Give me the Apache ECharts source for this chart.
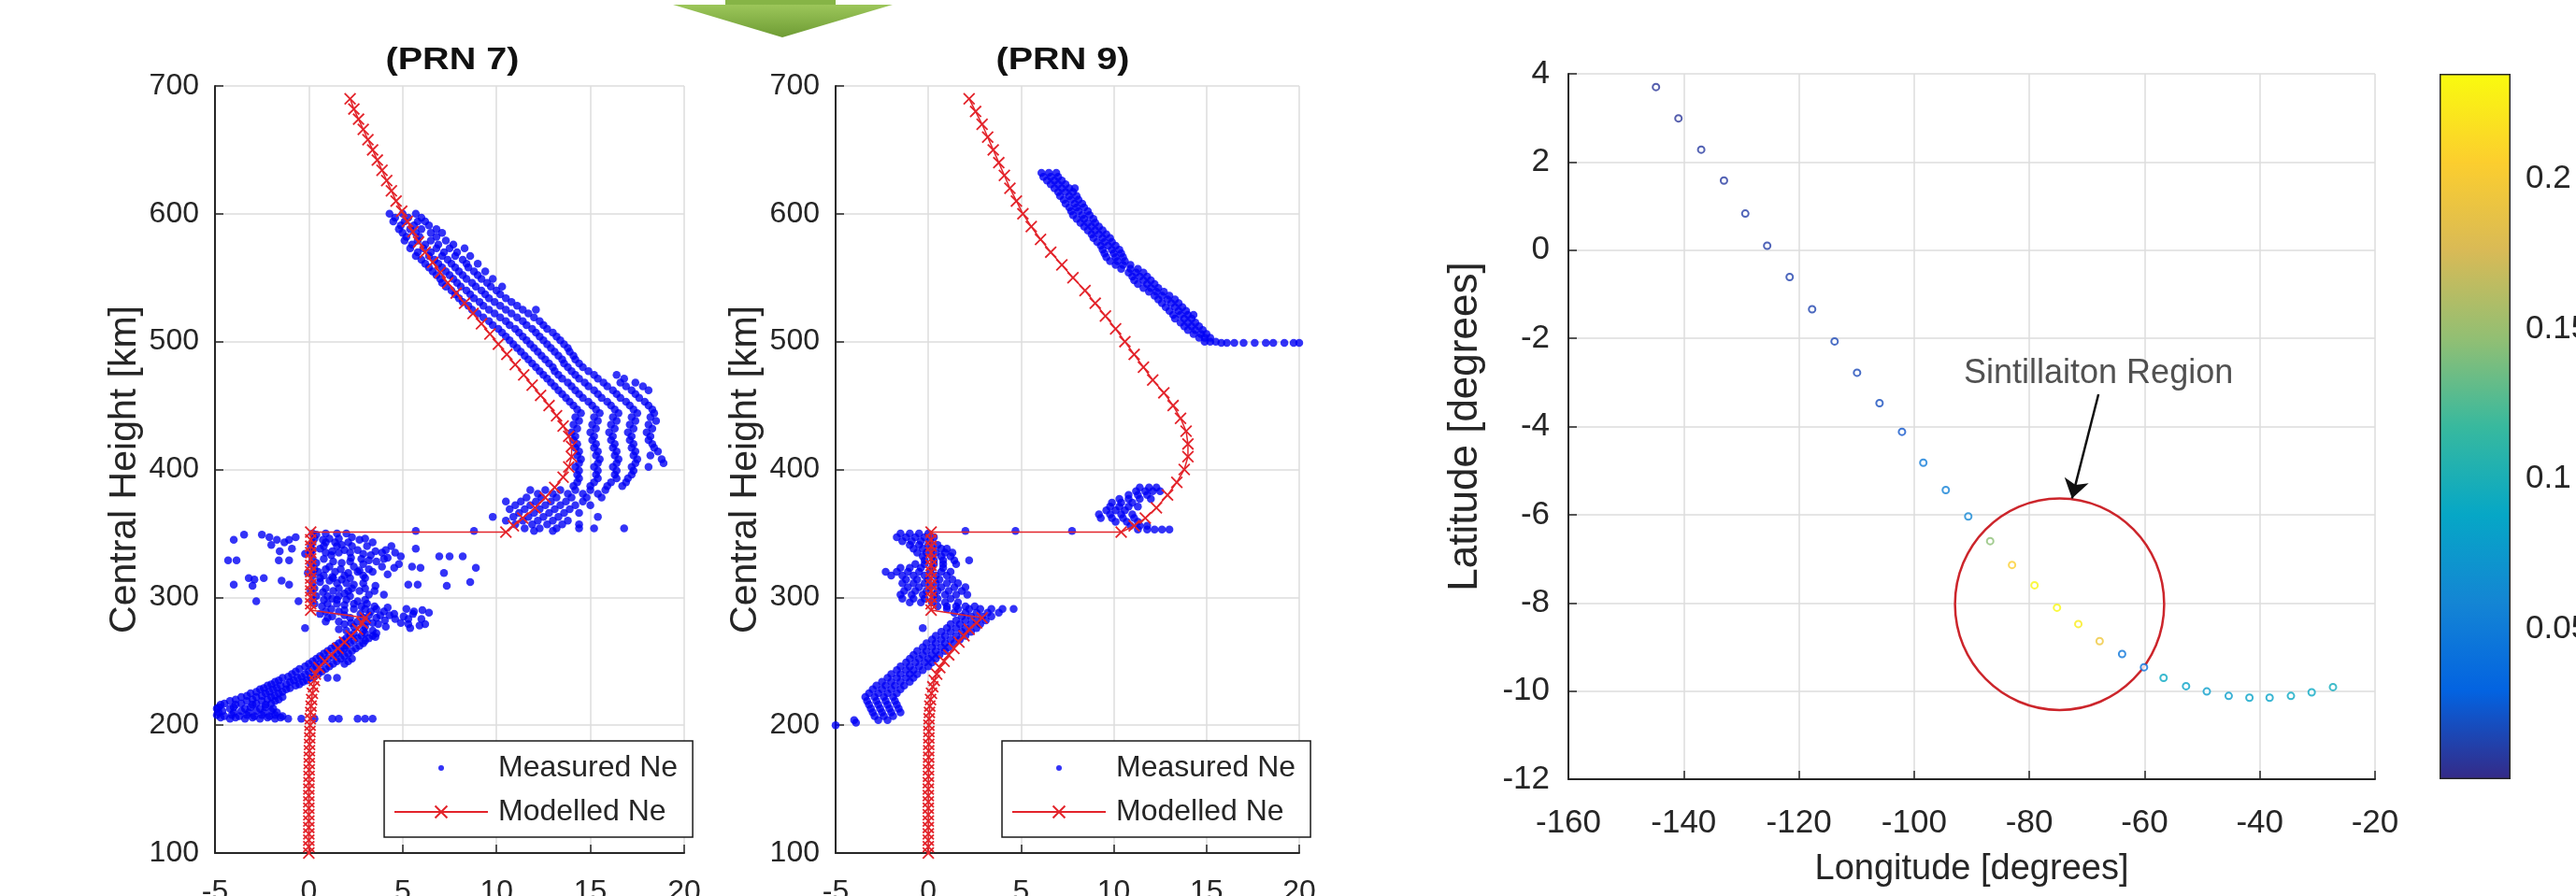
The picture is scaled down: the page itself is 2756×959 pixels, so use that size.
<!DOCTYPE html>
<html><head><meta charset="utf-8">
<script src="https://cdn.jsdelivr.net/npm/echarts@6/dist/echarts.min.js"></script>
<style>html,body{margin:0;padding:0;background:#fff}#c{width:2756px;height:959px}</style>
</head><body><div id="c"></div>
<script>
// ---------------- DATA ----------------
const panelTitles = ['(PRN 7)', '(PRN 9)'];
const seriesNames = ['Measured Ne', 'Modelled Ne'];

// Modelled Ne, PRN 7 : heights [km] and values
const model7Km = [100,105,110,115,120,125,130,135,140,145,150,155,160,165,170,175,180,185,190,195,200,205,210,215,220,225,230,235,240,245,250,255,260,265,270,275,280,284,290,295,300,305,310,315,320,325,330,335,340,345,351,351,356,362,370,378,386,394,402,410,418,426,434,442,450,458,466,474,482,490,498,506,514,522,530,538,546,554,562,570,578,586,594,602,610,618,626,634,642,650,658,666,674,682,690];
const model7Ne = [0,0,0,0,0,0,0,0,0,0,0,0.01,0.01,0.02,0.02,0.03,0.03,0.04,0.05,0.06,0.07,0.08,0.1,0.12,0.15,0.19,0.25,0.3,0.35,0.55,0.85,1.2,1.55,1.9,2.25,2.6,2.85,3.0,0.1,0.1,0.1,0.1,0.1,0.1,0.1,0.1,0.1,0.1,0.1,0.1,0.1,10.5,10.9,11.4,12.05,12.6,13.1,13.55,13.85,14.0,14.0,13.85,13.55,13.2,12.8,12.35,11.9,11.45,11.0,10.55,10.1,9.65,9.2,8.75,8.3,7.85,7.4,7.0,6.6,6.2,5.85,5.55,5.25,4.95,4.65,4.4,4.15,3.9,3.65,3.4,3.15,2.9,2.65,2.4,2.2];

// Modelled Ne, PRN 9
const model9Km = [100,105,110,115,120,125,130,135,140,145,150,155,160,165,170,175,180,185,190,195,200,205,210,215,220,225,230,235,240,245,250,255,260,265,270,275,280,284,290,295,300,305,310,315,320,325,330,335,340,345,351,351,356,362,370,380,390,400,410,420,430,440,450,460,470,480,490,500,510,520,530,540,550,560,570,580,590,600,610,620,630,640,650,660,670,680,690];
const model9Ne = [0,0,0,0,0,0,0,0,0,0,0,0,0.01,0.01,0.01,0.02,0.02,0.02,0.03,0.03,0.03,0.04,0.06,0.08,0.12,0.17,0.24,0.32,0.45,0.62,0.85,1.1,1.38,1.65,1.92,2.2,2.6,2.9,0.15,0.15,0.15,0.15,0.15,0.15,0.15,0.15,0.15,0.15,0.15,0.15,0.15,10.4,11.1,11.7,12.3,12.9,13.4,13.8,14.0,14.0,13.9,13.6,13.2,12.7,12.1,11.6,11.1,10.6,10.1,9.55,9.0,8.45,7.8,7.2,6.6,6.05,5.55,5.1,4.75,4.4,4.1,3.8,3.5,3.2,2.9,2.55,2.2];

// Measured Ne, PRN 7 : rows of [height km, Ne values...]
const meas7Rows = [
[600,4.3,5.0,5.7],[597,4.6,5.3,6.0],[594,4.5,5.1,5.8,6.2],[591,4.9,5.6,6.4],[588,4.8,5.4,6.0,6.8],
[585,5.0,5.7,6.5,7.1],[582,5.2,5.9,6.8],[579,5.1,5.8,6.5,7.3],[576,5.5,6.2,6.9,7.7],[573,5.4,6.1,6.8,7.5,8.3],
[570,5.8,6.5,7.2,7.9],[567,5.7,6.4,7.1,7.8,8.6],[564,6.0,6.7,7.4,8.2],[561,6.2,6.9,7.6,8.4,9.0],[558,6.4,7.1,7.8,8.5],
[555,6.6,7.3,8.0,8.8,9.4],[552,6.8,7.5,8.2,9.0],[549,7.0,7.7,8.4,9.2,9.8],[546,7.1,7.9,8.7,9.5],[543,7.3,8.1,8.9,9.7,10.3],
[540,7.6,8.4,9.2,10.0],[537,7.8,8.6,9.4,10.2],[534,8.0,8.8,9.6,10.5],[531,8.2,9.1,9.9,10.8],[528,8.5,9.3,10.2,11.1],
[525,8.7,9.6,10.5,11.4,12.1],[522,9.0,9.9,10.8,11.7],[519,9.3,10.2,11.1,12.0],[516,9.6,10.5,11.4,12.3],[513,9.8,10.7,11.6,12.5],
[510,10.1,11.0,11.9,12.7],[507,10.3,11.2,12.1,13.0],[504,10.5,11.4,12.3,13.2],[501,10.7,11.6,12.5,13.4],[498,10.9,11.8,12.7,13.6],
[495,11.1,12.0,12.9,13.8],[492,11.3,12.2,13.1,13.9],[489,11.5,12.4,13.3,14.1],[486,11.7,12.6,13.5,14.2],[483,11.9,12.8,13.6,14.4],
[480,12.1,13.0,13.8,14.6],[477,12.3,13.1,14.0,14.9],[474,12.5,13.3,14.2,15.2,16.4],[471,12.7,13.5,14.4,15.4,16.8],[468,12.9,13.8,14.7,15.7,16.6,17.4],
[465,13.1,14.0,14.9,15.9,16.9,17.8],[462,13.3,14.2,15.2,16.2,17.2,18.1],[459,13.5,14.4,15.4,16.4,17.4],[456,13.7,14.6,15.6,16.6,17.6],[453,13.9,14.9,15.9,16.9,17.9],
[450,14.1,15.1,16.1,17.1,18.1],[447,14.3,15.3,16.3,17.3,18.3],[444,14.5,15.5,16.5,17.5,18.4],[441,14.2,15.2,16.2,17.2,18.2],[438,14.4,15.4,16.4,17.4,18.5],
[435,14.1,15.1,16.1,17.1,18.1],[432,14.3,15.3,16.3,17.3,18.3],[429,14.0,15.0,16.0,17.0,18.0],[426,14.2,15.2,16.2,17.2,18.2],[423,14.1,15.1,16.1,17.1,18.1],
[420,14.3,15.3,16.3,17.3,18.3],[417,14.2,15.2,16.2,17.2,18.4],[414,14.4,15.4,16.4,17.4,18.6],[411,14.3,15.3,16.3,17.3,18.2],[408,14.5,15.5,16.5,17.5,18.8],
[405,14.4,15.4,16.4,17.4,18.9],[402,14.2,15.2,16.2,17.2,18.1],[399,14.4,15.4,16.4,17.3],[396,14.3,15.3,16.3,17.2],[393,14.4,15.4,16.4,17.0],
[390,14.3,15.2,16.1,16.9],[387,14.1,15.0,15.9,16.7],[384,11.8,12.6,13.4,14.2,15.0,15.8],[381,12.2,13.0,13.8,14.6,15.4],[378,11.6,12.4,13.2,14.0,14.8,15.6],
[375,10.5,11.3,12.1,12.9,13.7,14.6],[372,11.0,11.8,12.6,13.4,14.2,15.0],[369,10.7,11.5,12.3,13.1,13.9],[366,11.2,12.0,12.8,13.6,14.4],[363,9.8,10.9,11.7,12.5,13.3,15.4],
[360,10.5,11.4,12.2,13.0,13.8],[357,11.0,11.9,12.7,13.5,14.4],[354,11.5,12.3,13.2,14.4,15.2,16.8],[352,5.7,8.8,12.0,13.0],
[350,0.2,0.9,1.5,2.0],[349,-3.45,-2.5,0.4],[347,-2.1,-0.7,2.3],[346,0.3,1.1,1.6,3.0],[345,-4.0,-1.7,-1.05,0.75,2.7],
[343,-1.3,0.2,0.9,1.4,2.1,3.4],[341,-2.0,1.75],[340,0.1,0.8,1.5,2.3,3.1,4.4],[338,-0.9,0.6,5.7],[337,0.2,1.9,2.6,4.1],
[336,-1.55,1.25,3.55],[335,0.1,0.9,1.6,2.2,3.9,4.6],[334,-0.2,2.9],[333,1.2,3.3],[332,4.9,6.95,7.5,8.2],
[331,2.25,4.2],[330,0.2,0.8,2.8,4.0],[329,-4.3,-3.85,-1.6,-1.05,3.2],[328,1.3,2.2,3.6],[327,0.4,1.75],
[326,0.1,2.9,4.8],[324,1.1,2.4,3.9,5.5],[323,4.55,5.95,8.9],[322,0.3,0.9,1.7,3.2],[321,2.7],
[320,0.5,1.4,2.6,3.4],[319,-0.05,2.1,7.2],[318,4.2],[317,0.2,0.8,1.9,2.9],[316,1.25],
[315,-3.2,-2.4,0.6,1.3,2.2,3.0],[314,-2.9,1.75],[313,-1.45,1.1],[312,0.6,8.6],[311,0.2,1.5,2.0,2.9],
[310,-4.0,-1.05,2.4,5.3,5.8],[309,-3.0,3.55,7.35],[307,0.3,0.9,1.6,2.3,3.0],[305,0.1,1.3,2.1,2.7,3.5],[304,0.75],
[303,1.9],[302,3.2,4.0],[301,0.4,1.0,1.6,2.2],[299,1.25],[298,0.2,0.8,1.5,2.0,3.0],
[297,-2.8,-0.55,2.6],[295,0.3,1.0,1.5,2.4,3.1],[294,1.9],[293,0.7,2.8,3.5],[292,4.2],
[291,1.2,2.4,3.0,3.6,5.2],[290,1.9,6.05],[289,0.9,1.6,3.3,4.0,5.6],[288,6.4],[287,0.6,2.75,4.55,5.55],
[286,1.9,3.2,3.8,4.3],[285,1.25,5.05],[284,1.0,2.2,2.9,3.6],[283,4.6,5.3,6.0],[282,4.05],
[281,0.9,1.6,2.6,3.1],[280,2.25,3.4,4.9],[279,1.9,3.7,5.3,6.2],[278,5.9],[277,2.4,3.0,4.1],
[276,-0.2,5.4],[275,1.6],[274,2.0,2.9,3.4],[272,2.4,3.0,3.6],[270,2.2,2.8,3.4],
[269,3.55],[268,2.0,2.6,3.2],[266,1.8,2.4,3.0],[264,1.6,2.2,2.9],[262,1.4,2.0,2.7],
[260,1.2,1.9,2.5],[258,1.0,1.7,2.3],[256,0.8,1.5,2.1],[254,0.6,1.3,1.9],[252,0.4,1.0,1.7,2.3],
[250,0.2,0.8,1.5,2.1],[248,0.0,0.6,1.3,1.9],[246,-0.2,0.4,1.1],[244,-0.5,0.2,0.9],[242,-0.7,0.0,0.7],
[240,-0.9,-0.2,0.5],[238,-1.1,-0.4,0.3],[237,-1.4,-0.6,0.1,1.0,1.5],[235,-1.6,-0.8,-0.1],[234,-1.8,-1.0,-0.3],
[232,-2.0,-1.2,-0.5],[231,-2.2,-1.5,-0.7],[229,-2.4,-1.7,-1.0],[228,-2.6,-1.9,-1.2],[226,-2.8,-2.1,-1.4],
[225,-3.1,-2.3,-1.6],[223,-3.3,-2.5,-1.8],[222,-3.6,-2.8,-2.0,-1.4],[220,-3.9,-3.0,-2.2,-1.6],[219,-4.2,-3.3,-2.5,-1.8],
[217,-4.5,-3.6,-2.8,-2.0],[216,-4.7,-3.9,-3.0,-2.3],[214,-4.8,-4.0,-3.1,-2.3],[213,-4.9,-4.2,-3.4,-2.6,-1.9],[211,-4.6,-3.6,-2.8,-2.0],
[210,-4.8,-4.0,-3.2,-2.4,-1.7],[208,-4.9,-4.1,-3.3,-2.5,-1.8],[207,-4.5,-3.7,-2.9,-2.1,-1.4],[206,-4.7,-3.9,-3.0,-2.2,-1.5],
[205,-4.2,-3.4,-2.6,-1.8,-1.1,-0.4,0.3,1.25,1.6,2.6,3.0,3.4]
];

// Measured Ne, PRN 9
const meas9Rows = [
[632,6.1,6.5,6.9],[629,6.2,6.6,7.0],[626,6.4,6.8,7.2],[623,6.6,7.0,7.4],[620,6.8,7.2,7.6,7.9],
[617,7.0,7.4,7.8],[614,7.1,7.6,8.0],[611,7.3,7.7,8.1],[608,7.4,7.9,8.3],[605,7.6,8.0,8.4],
[602,7.7,8.1,8.6],[599,7.8,8.3,8.7],[596,8.0,8.4,8.9],[593,8.2,8.6,9.0],[590,8.4,8.8,9.2],
[587,8.6,9.0,9.4],[584,8.8,9.2,9.6],[581,8.9,9.4,9.8],[578,9.1,9.5,9.9],[575,9.3,9.7,10.1],
[572,9.4,9.9,10.3],[569,9.5,10.0,10.4],[566,9.6,10.1,10.5],[563,9.8,10.2,10.6],[560,10.1,10.5,10.9],
[557,10.4,10.9,11.3],[554,10.8,11.2,11.6],[551,11.0,11.4,11.8],[548,11.1,11.6,12.0],[545,11.3,11.8,12.2],
[542,11.6,12.0,12.4],[539,11.9,12.3,12.7],[536,12.2,12.6,13.0],[533,12.4,12.9,13.3],[530,12.6,13.1,13.5],
[527,12.8,13.3,13.7],[524,13.0,13.5,13.9],[521,13.2,13.6,14.0,14.3],[518,13.3,13.8,14.2],[515,13.6,14.0,14.4],
[512,13.8,14.2,14.6],[509,14.0,14.4,14.8],[506,14.3,14.7,15.0],[503,14.6,14.9,15.2],[500,14.9,15.2,15.5],
[499,15.8,16.1,16.5,17.0,17.6,18.2,18.6,19.2,19.7,20.0],
[386,11.4,11.9,12.3],[383,11.2,11.7,12.1,12.5],[380,10.8,11.3,11.8],[377,10.3,10.8,11.4,12.0],[374,9.9,10.4,11.0],
[371,9.8,10.3,10.8,11.3],[368,9.6,10.1,10.6],[365,9.2,9.8,10.4,11.0],[362,9.3,9.9,10.5,11.1],[359,10.1,10.7,11.3],
[356,10.9,11.4,11.8],[353,11.3,11.8,12.2,12.6,13.0],[352,2.0,4.7,7.75],
[350,-1.5,-1.0,-0.5,0.0],[347,-1.7,-1.2,-0.7,-0.2,0.3],[344,-1.4,-0.9,-0.4,0.1],[341,-1.0,-0.5,0.0,0.5],[338,-0.8,-0.3,0.2,0.7,1.0],
[335,-0.6,-0.1,0.4,0.9,1.3],[332,-0.3,0.2,0.7,1.2],[329,-0.2,0.3,0.8,1.4,2.2],[326,-0.7,-0.2,0.3,0.8,1.5],[323,-1.5,-1.0,-0.4,0.2,0.8],
[320,-2.3,-1.7,-1.1,-0.5,0.1,0.7,1.2],[317,-2.0,-1.4,-0.8,-0.2,0.4,1.0],[314,-1.2,-0.6,0.0,0.6,1.3],[311,-1.4,-0.8,-0.2,0.4,1.0,1.6],[308,-1.1,-0.5,0.1,0.7,1.4,2.0],
[305,-1.3,-0.7,-0.1,0.5,1.1,1.8],[302,-1.5,-0.9,-0.3,0.3,0.9,1.5,2.1],[299,-1.4,-0.8,-0.2,0.5,1.2],[296,-1.0,-0.4,0.2,0.9,1.6],[293,0.5,1.0,1.5,2.0,2.5],
[291,1.0,1.6,2.2,2.8,3.4,4.0,4.6],[288,1.4,2.0,2.6,3.2,3.8],[285,1.8,2.3,2.9,3.4],[282,1.5,2.0,2.6,3.1],[279,1.2,1.7,2.3,2.8],
[276,-0.3,1.0,1.5,2.0,2.6],[273,0.7,1.2,1.8,2.3],[270,0.4,0.9,1.5,2.0],[267,0.2,0.7,1.2,1.7],[264,-0.1,0.4,0.9,1.4],
[261,-0.3,0.2,0.7,1.1],[258,-0.6,-0.1,0.4,0.9],[255,-0.8,-0.3,0.2,0.6],[252,-1.0,-0.5,0.0,0.4],[249,-1.2,-0.7,-0.2,0.2],
[246,-1.5,-1.0,-0.5,0.0],[243,-1.7,-1.2,-0.8,-0.3],[240,-2.0,-1.5,-1.0,-0.6],[237,-2.2,-1.7,-1.2,-0.8],[234,-2.5,-2.0,-1.5,-1.0],
[231,-2.8,-2.3,-1.8,-1.3],[228,-3.0,-2.5,-2.0,-1.5],[225,-3.2,-2.7,-2.2,-1.7],[222,-3.4,-2.9,-2.4,-1.9],[219,-3.3,-2.8,-2.3,-1.8],
[216,-3.2,-2.7,-2.2,-1.7],[213,-3.1,-2.6,-2.1,-1.6],[210,-3.0,-2.5,-2.0,-1.5],[207,-2.9,-2.4,-1.9],[204,-2.7,-2.2,-4.0],
[202,-3.9],[200,-5.0]
];

// Satellite track (right panel)
const trackLon = [-144.8,-140.9,-136.95,-133.0,-129.3,-125.5,-121.6,-117.7,-113.8,-109.9,-106.0,-102.1,-98.4,-94.5,-90.6,-86.8,-83.0,-79.1,-75.2,-71.5,-67.8,-63.9,-60.1,-56.7,-52.8,-49.2,-45.4,-41.8,-38.3,-34.6,-31.0,-27.3];
const trackLat = [3.70,2.99,2.28,1.58,0.83,0.10,-0.61,-1.34,-2.07,-2.78,-3.47,-4.12,-4.82,-5.44,-6.04,-6.60,-7.14,-7.60,-8.11,-8.48,-8.87,-9.16,-9.46,-9.70,-9.89,-10.01,-10.11,-10.15,-10.15,-10.11,-10.03,-9.91];
const trackS4 = [0.006,0.006,0.008,0.008,0.01,0.01,0.012,0.013,0.015,0.016,0.018,0.022,0.05,0.055,0.06,0.145,0.205,0.232,0.233,0.225,0.195,0.045,0.04,0.09,0.085,0.08,0.08,0.085,0.085,0.09,0.09,0.095];

// Annotation (ellipse: centre lon, centre lat, radius lon, radius lat)
const regionEllipse = [[-74.75, -8.03, 18.15, 2.40]];
const regionLabel = 'Sintillaiton Region';
const regionLabelPos = [-68.0, -2.81];
const regionArrow = [[-68.0, -3.27], [-72.6, -5.63]];

// Colour bar
const cbMin = 0, cbMax = 0.235;
const parula = ['#352a87','#0363e1','#1485d4','#06a7c6','#38b99e','#92bf73','#d9ba56','#fcce2e','#f9fb0e'];

// ---------------- BUILD ----------------
const FONT = '"Liberation Sans", Arial, Helvetica, sans-serif';
const INK = '#262626';
const GRIDC = '#dcdcdc';
const RED = '#e3242b';
const XMARK = 'path://M0,1L1,0L5,4L9,0L10,1L6,5L10,9L9,10L5,6L1,10L0,9L4,5Z';
const DOT = 'path://M0,0M30,30M10,15A5,5,0,1,1,20,15A5,5,0,1,1,10,15Z';

function rowsToPts(rows){ const o=[]; rows.forEach(r=>{ for(let i=1;i<r.length;i++) o.push([r[i], r[0]]); }); return o; }
function modelPts(km, ne){ return km.map((h,i)=>[ne[i], h]); }

function valAxis(o){
  return {
    type:'value', gridIndex:o.g, min:o.min, max:o.max, interval:o.iv,
    position:o.pos,
    axisLine:{show:true,onZero:false,lineStyle:{color:INK,width:2}},
    axisTick:{show:true,inside:true,length:9,lineStyle:{color:INK,width:1.5}},
    axisLabel:{color:INK,fontSize:o.fs,fontFamily:FONT,margin:o.m},
    splitLine:{show:true,lineStyle:{color:GRIDC,width:1.5}},
    name:o.name||'', nameLocation:'middle', nameGap:o.ng||0, nameRotate:o.nr||0,
    nameTextStyle:{color:INK,fontSize:o.nfs||41,fontFamily:FONT}
  };
}

const legendCommon = {
  orient:'vertical', itemWidth:100, itemHeight:18, itemGap:15,
  padding:[13,16,11,10], borderColor:'#1a1a1a', borderWidth:1.5, backgroundColor:'#fff',
  textStyle:{color:INK,fontSize:32,fontFamily:FONT,padding:[0,0,0,6]},
  selectedMode:false,
  data:[{name:seriesNames[0], icon:DOT}, {name:seriesNames[1]}]
};

const option = {
  animation:false,
  backgroundColor:'#fff',
  grid:[
    {left:230, top:92, width:502, height:821, outerBoundsMode:'none'},
    {left:894, top:92, width:496, height:821, outerBoundsMode:'none'},
    {left:1678, top:79, width:863, height:755, outerBoundsMode:'none'},
    {left:2610, top:79, width:76, height:755, outerBoundsMode:'none'}
  ],
  xAxis:[
    valAxis({g:0,min:-5,max:20,iv:5,fs:32,m:26,pos:'bottom'}),
    valAxis({g:1,min:-5,max:20,iv:5,fs:32,m:26,pos:'bottom'}),
    valAxis({g:2,min:-160,max:-20,iv:20,fs:35,m:30,pos:'bottom',name:'Longitude [degrees]',ng:78,nfs:38}),
    {type:'category', gridIndex:3, data:['S4'], show:false}
  ],
  yAxis:[
    valAxis({g:0,min:100,max:700,iv:100,fs:32,m:17,pos:'left',name:'Central Height [km]',ng:76,nr:90}),
    valAxis({g:1,min:100,max:700,iv:100,fs:32,m:17,pos:'left',name:'Central Height [km]',ng:76,nr:90}),
    valAxis({g:2,min:-12,max:4,iv:2,fs:35,m:20,pos:'left',name:'Latitude [degrees]',ng:88,nr:90,nfs:44}),
    {type:'value', gridIndex:3, min:cbMin, max:cbMax, interval:0.05, position:'right',
     axisLine:{show:false}, splitLine:{show:false},
     axisTick:{show:true,inside:true,length:8,lineStyle:{color:INK,width:1.5}},
     axisLabel:{color:INK,fontSize:35,fontFamily:FONT,margin:16,showMinLabel:false,showMaxLabel:false}}
  ],
  legend:[
    Object.assign({left:411, top:793}, legendCommon),
    Object.assign({left:1072, top:793}, legendCommon)
  ],
  visualMap:[{type:'continuous', show:false, seriesIndex:4, dimension:2, min:cbMin, max:cbMax, inRange:{color:parula}}],
  graphic:[
    {type:'rect', shape:{x:776,y:0,width:118,height:6}, style:{fill:'#86b446'}, silent:true},
    {type:'polygon', shape:{points:[[720,5],[955,5],[837,40]]}, silent:true,
     style:{fill:new echarts.graphic.LinearGradient(0,0,0,1,[{offset:0,color:'#9cc65a'},{offset:1,color:'#6e9c34'}])}},
    {type:'text', x:484, y:65, scaleX:1.2, silent:true, style:{text:panelTitles[0], align:'center', verticalAlign:'middle', fill:'#111', font:'bold 33px '+FONT}},
    {type:'text', x:1137, y:65, scaleX:1.2, silent:true, style:{text:panelTitles[1], align:'center', verticalAlign:'middle', fill:'#111', font:'bold 33px '+FONT}}
  ],
  series:[
    {name:seriesNames[0], type:'scatter', xAxisIndex:0, yAxisIndex:0, data:rowsToPts(meas7Rows),
     symbol:'circle', symbolSize:8.5, itemStyle:{color:'#0000f5'}, z:2},
    {name:seriesNames[1], type:'line', xAxisIndex:0, yAxisIndex:0, data:modelPts(model7Km, model7Ne),
     symbol:XMARK, symbolSize:13, showAllSymbol:true, lineStyle:{color:RED,width:1.5}, itemStyle:{color:RED}, z:3},
    {name:seriesNames[0], type:'scatter', xAxisIndex:1, yAxisIndex:1, data:rowsToPts(meas9Rows),
     symbol:'circle', symbolSize:8.5, itemStyle:{color:'#0000f5'}, z:2},
    {name:seriesNames[1], type:'line', xAxisIndex:1, yAxisIndex:1, data:modelPts(model9Km, model9Ne),
     symbol:XMARK, symbolSize:13, showAllSymbol:true, lineStyle:{color:RED,width:1.5}, itemStyle:{color:RED}, z:3},
    {name:'track', type:'scatter', xAxisIndex:2, yAxisIndex:2,
     data:trackLon.map((v,i)=>[v, trackLat[i], trackS4[i]]),
     symbol:'emptyCircle', symbolSize:7, z:4},
    {name:'region', type:'custom', xAxisIndex:2, yAxisIndex:2, data:regionEllipse, z:3, silent:true,
     renderItem:function(params, api){
       const c = api.coord([api.value(0), api.value(1)]);
       const s = api.size([api.value(2), api.value(3)]);
       return {type:'ellipse', shape:{cx:c[0], cy:c[1], rx:s[0], ry:s[1]},
               style:{fill:'none', stroke:'#cc252b', lineWidth:2.5}};
     }},
    {name:'label', type:'scatter', xAxisIndex:2, yAxisIndex:2, data:[regionLabelPos], symbolSize:0, silent:true,
     label:{show:true, position:'inside', formatter:regionLabel, color:INK, fontSize:36, fontFamily:FONT},
     markLine:{silent:true, symbol:['none','arrow'], symbolSize:20, label:{show:false},
       lineStyle:{color:'#111', width:2.5, type:'solid'},
       data:[[{coord:regionArrow[0]},{coord:regionArrow[1]}]]}},
    {name:'colorbar', type:'bar', xAxisIndex:3, yAxisIndex:3, data:[cbMax], barWidth:'100%', silent:true,
     itemStyle:{borderColor:INK, borderWidth:1.5,
       color:new echarts.graphic.LinearGradient(0,1,0,0, parula.map((c,i)=>({offset:i/(parula.length-1), color:c})))}}
  ]
};

const chart = echarts.init(document.getElementById('c'), null, {renderer:'canvas', width:2756, height:959});
chart.setOption(option);
</script>
</body></html>
